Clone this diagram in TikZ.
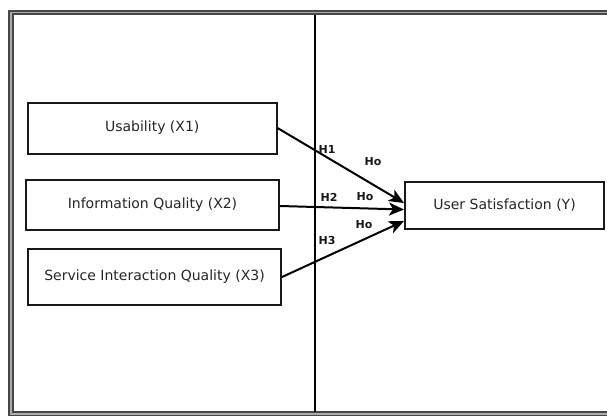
\documentclass[tikz,border=0pt]{standalone}
\usepackage{fontspec}
\setmainfont{DejaVu Sans}
\usetikzlibrary{arrows.meta}
\definecolor{txt}{HTML}{262626}
\tikzset{
  varbox/.style={draw=black!90, line width=2pt, fill=white, inner sep=0pt, align=center,
    text=txt, font=\fontsize{14}{16}\selectfont},
  hyp/.style={->, >={Stealth[length=15pt,width=13pt,inset=4pt]}, line width=2pt, draw=black},
  hlab/.style={font=\bfseries\fontsize{11}{13}\selectfont, text=black!90, inner sep=0pt},
  frameline/.style={draw=black!72, line width=2pt, double=gray!65, double distance=1.5pt}
}
\begin{document}
\begin{tikzpicture}[x=1pt,y=-1pt]
\useasboundingbox (0,0) rectangle (607,415);
\clip (0,0) rectangle (607,415);
\fill[white] (0,0) rectangle (607,415);
% outer frame
\draw[frameline] (10.75,12.25) rectangle (625,414);
% divider
\coordinate (dtop) at (315,15);
\coordinate (dbot) at (315,412);
\draw[line width=2.5pt, black] (dtop) -- (dbot);
% boxes
\node[varbox, minimum width=248.5pt, minimum height=51pt] (u) at (152.25,128) {Usability (X1)};
\node[varbox, minimum width=253pt, minimum height=50pt] (iq) at (152.5,205) {Information Quality (X2)};
\node[varbox, minimum width=253pt, minimum height=56pt] (sq) at (154.5,277) {Service Interaction Quality (X3)};
\node[varbox, minimum width=199pt, minimum height=47pt] (y) at (504.5,205.5) {User Satisfaction (Y)};
% arrows
\draw[hyp] (u.east) -- ([yshift=2.5pt]y.west);
\draw[hyp] ([yshift=-1pt]iq.east) -- ([yshift=-4pt]y.west);
\draw[hyp] (sq.east) -- ([yshift=-15.5pt]y.west);
% labels
\node[hlab] (h1) at (327,149) {H1};
\node[hlab] (o1) at (373,162) {Ho};
\node[hlab] (h2) at (329,197) {H2};
\node[hlab] (o2) at (365,197) {Ho};
\node[hlab] (o3) at (364,225) {Ho};
\node[hlab] (h3) at (327,240) {H3};
\end{tikzpicture}
\end{document}
